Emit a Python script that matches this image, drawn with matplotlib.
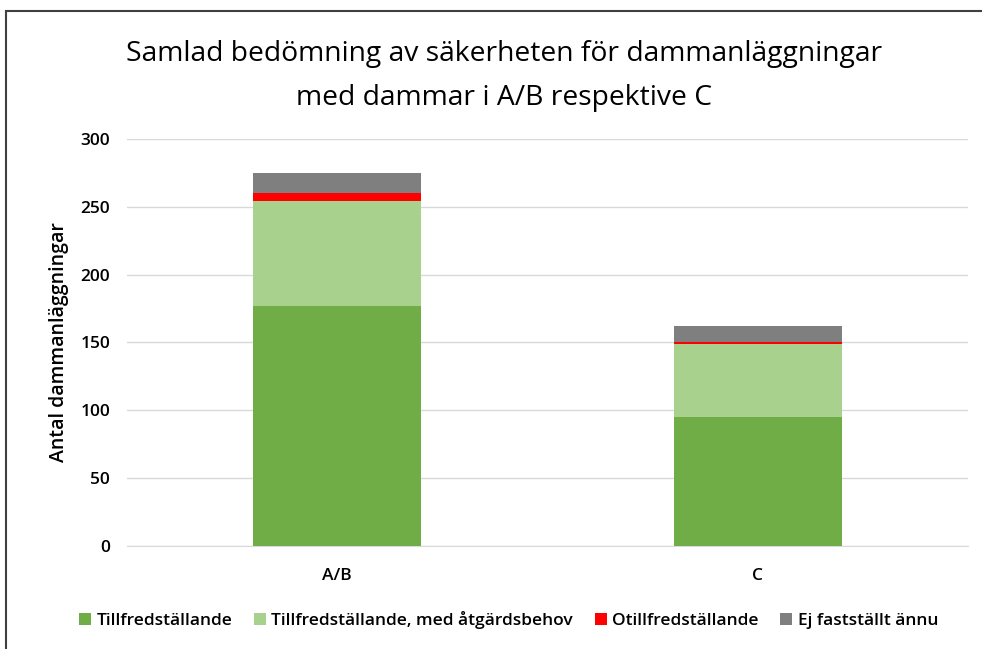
import numpy as np
import matplotlib.pyplot as plt
from matplotlib.patches import Rectangle

categories = ["A/B", "C"]
tillfredstallande = [177, 95]
med_atgardsbehov = [77, 54]
otillfredstallande = [6, 1]
ej_faststallt = [15, 12]

series_labels = ["Tillfredställande", "Tillfredställande, med åtgärdsbehov",
                 "Otillfredställande", "Ej fastställt ännu"]
colors = ["#70AD47", "#A9D18E", "#FF0000", "#7F7F7F"]

plt.rcParams['font.family'] = ['Open Sans', 'DejaVu Sans']

fig = plt.figure(figsize=(9.82, 6.49), dpi=100)
ax = fig.add_axes([0.129, 0.159, 0.857, 0.627])

x = np.arange(len(categories))
bottom = np.zeros(len(categories))
for vals, lab, col in zip([tillfredstallande, med_atgardsbehov, otillfredstallande, ej_faststallt],
                          series_labels, colors):
    ax.bar(x, vals, width=0.4, bottom=bottom, color=col, label=lab, zorder=3)
    bottom += np.array(vals)

ax.set_xlim(-0.5, 1.5)
ax.set_ylim(0, 300)
ax.set_yticks(range(0, 301, 50))
ax.set_xticks(x)
ax.set_xticklabels(categories)
ax.grid(axis='y', color='#D9D9D9', linewidth=1, zorder=0)
for s in ['top', 'right', 'left']:
    ax.spines[s].set_visible(False)
ax.spines['bottom'].set_color('#D9D9D9')
ax.tick_params(axis='y', length=0, labelsize=12.5, colors='black', pad=12)
ax.tick_params(axis='x', length=0, labelsize=12.5, colors='black', pad=16)
for t in ax.get_xticklabels() + ax.get_yticklabels():
    t.set_fontweight('semibold')
ax.set_ylabel("Antal dammanläggningar", fontsize=14, labelpad=8, fontweight='semibold')

fig.text(0.513, 0.917, "Samlad bedömning av säkerheten för dammanläggningar",
         ha='center', va='center', fontsize=20.3)
fig.text(0.513, 0.849, "med dammar i A/B respektive C", ha='center', va='center', fontsize=20.3)

handles, labels = ax.get_legend_handles_labels()
leg = fig.legend(handles, labels, loc='center', bbox_to_anchor=(0.518, 0.045), ncol=4,
                 frameon=False, fontsize=12.5, handlelength=0.7, handleheight=0.7,
                 handletextpad=0.3, columnspacing=1.25)
for t in leg.get_texts():
    t.set_fontweight('semibold')

fig.patches.append(Rectangle((0.006, -0.1), 1.2, 1.083, transform=fig.transFigure,
                             fill=False, edgecolor='#404040', linewidth=1.5))

fig.savefig("out.png", dpi=100)
